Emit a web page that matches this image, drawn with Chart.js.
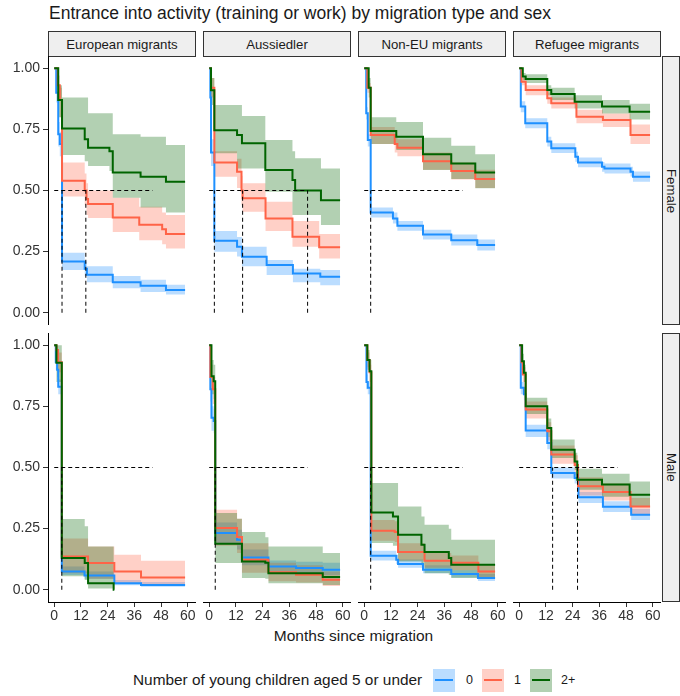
<!DOCTYPE html>
<html><head><meta charset="utf-8">
<script src="https://cdn.jsdelivr.net/npm/chart.js@4.4.1/dist/chart.umd.min.js"></script>
<style>
body{margin:0;width:680px;height:696px;position:relative;background:#fff;font-family:"Liberation Sans",Arial,sans-serif;overflow:hidden;color:#1a1a1a}
.strip{position:absolute;background:#efefef;border:1px solid #333;box-sizing:border-box;display:flex;align-items:center;justify-content:center;font-size:13.2px;color:#1a1a1a}
.vstrip{writing-mode:vertical-rl}
.txt{position:absolute;white-space:nowrap}
.key{position:absolute;width:22px;height:23px}
.key i{position:absolute;left:2px;right:2px;top:10px;height:2px}
</style></head><body>
<div class="txt" style="left:49px;top:3px;font-size:17.5px;line-height:20px">Entrance into activity (training or work) by migration type and sex</div>
<div class="txt" style="left:0;width:707px;text-align:center;top:627px;font-size:15.5px;line-height:18px">Months since migration</div>
<script>
// ---- categories ----
const panels = ['European migrants','Aussiedler','Non-EU migrants','Refugee migrants'];
const sexes = ['Female','Male'];
const groups = ['0','1','2+'];
const legendTitle = 'Number of young children aged 5 or under';
const xTicks = [0,12,24,36,48,60];
const yTicks = [0,0.25,0.5,0.75,1];
const yTickLabels = ['0.00','0.25','0.50','0.75','1.00'];

// ---- survival curves: rows of [month, survival, lower CI, upper CI] ----
const EU_F_0 = [[0,1,1,1],[0.9,0.9,0.86,0.94],[1.8,0.73,0.68,0.78],[2.5,0.69,0.64,0.74],[3.5,0.21,0.175,0.245],[13.7,0.18,0.15,0.21],[14.7,0.155,0.125,0.19],[26.3,0.125,0.1,0.15],[38.8,0.11,0.085,0.135],[50.2,0.093,0.075,0.115],[58.8,0.093,0.075,0.115]];
const EU_F_1 = [[0,1,1,1],[1.6,0.93,0.88,0.97],[2.5,0.87,0.8,0.92],[3.5,0.54,0.475,0.615],[13.7,0.5,0.44,0.57],[14.5,0.465,0.4,0.53],[15.2,0.445,0.388,0.5],[26.3,0.39,0.33,0.47],[38.2,0.36,0.297,0.434],[48.5,0.342,0.28,0.41],[50.2,0.322,0.263,0.4],[58.8,0.322,0.263,0.4]];
const EU_F_2 = [[0,1,1,1],[1.8,0.87,0.8,0.93],[3.5,0.754,0.645,0.88],[13.7,0.71,0.62,0.88],[15.2,0.675,0.6,0.816],[24.8,0.66,0.58,0.816],[26.3,0.574,0.47,0.73],[38.8,0.556,0.43,0.72],[50.2,0.536,0.41,0.686],[58.8,0.536,0.41,0.686]];

const AUS_F_0 = [[0,1,1,1],[0.5,0.88,0.84,0.92],[0.8,0.655,0.6,0.71],[2.3,0.295,0.25,0.334],[12.5,0.27,0.23,0.31],[14.7,0.229,0.19,0.27],[25.8,0.195,0.154,0.216],[37.6,0.161,0.125,0.18],[49.9,0.147,0.113,0.175],[58.8,0.147,0.113,0.175]];
const AUS_F_1 = [[0,1,1,1],[0.8,0.92,0.88,0.96],[2.3,0.615,0.556,0.66],[12.5,0.577,0.51,0.63],[14.5,0.5,0.44,0.56],[15,0.468,0.413,0.53],[25.3,0.386,0.334,0.454],[37.4,0.311,0.27,0.375],[49.4,0.268,0.222,0.322],[58.8,0.268,0.222,0.322]];
const AUS_F_2 = [[0,1,1,1],[0.8,0.91,0.85,0.96],[2.3,0.746,0.652,0.85],[12.5,0.727,0.59,0.85],[14.7,0.693,0.59,0.805],[25.2,0.584,0.495,0.707],[37.4,0.543,0.4,0.66],[38.6,0.5,0.4,0.632],[50.2,0.46,0.359,0.59],[58.8,0.46,0.359,0.59]];

const NEU_F_0 = [[0,1,1,1],[0.9,0.816,0.79,0.84],[1.6,0.707,0.68,0.73],[2.9,0.41,0.39,0.43],[12.9,0.386,0.365,0.41],[14.9,0.356,0.335,0.375],[26.4,0.32,0.3,0.34],[39.1,0.297,0.275,0.32],[50.8,0.277,0.255,0.3],[58.8,0.277,0.255,0.3]];
const NEU_F_1 = [[0,1,1,1],[1.4,0.92,0.9,0.94],[2.9,0.727,0.69,0.76],[13.7,0.69,0.655,0.725],[14.9,0.675,0.64,0.71],[26.4,0.62,0.585,0.655],[39.1,0.58,0.545,0.615],[49.9,0.547,0.51,0.585],[58.8,0.547,0.51,0.585]];
const NEU_F_2 = [[0,1,1,1],[2,0.92,0.88,0.96],[2.9,0.743,0.69,0.8],[14.4,0.72,0.666,0.78],[26.4,0.648,0.584,0.716],[39.1,0.61,0.547,0.683],[49.9,0.574,0.509,0.648],[58.8,0.574,0.509,0.648]];

const REF_F_0 = [[0,1,1,1],[0.7,0.843,0.82,0.865],[2.7,0.775,0.755,0.795],[12.6,0.7,0.68,0.72],[14.4,0.673,0.653,0.693],[25.2,0.638,0.618,0.658],[26.4,0.615,0.595,0.635],[37.2,0.597,0.577,0.617],[38.3,0.59,0.57,0.61],[50,0.577,0.557,0.597],[51.1,0.556,0.536,0.578],[58.8,0.556,0.536,0.578]];
const REF_F_1 = [[0,1,1,1],[1,0.945,0.93,0.96],[2.9,0.911,0.89,0.93],[12.6,0.877,0.855,0.9],[14.4,0.857,0.835,0.88],[25.7,0.802,0.775,0.83],[37.6,0.788,0.76,0.815],[50,0.727,0.69,0.77],[58.8,0.727,0.69,0.77]];
const REF_F_2 = [[0,1,1,1],[1.6,0.966,0.95,0.98],[2.9,0.956,0.94,0.975],[12.6,0.911,0.89,0.93],[14.4,0.895,0.87,0.92],[24.9,0.863,0.835,0.89],[37.2,0.843,0.815,0.87],[49.6,0.822,0.79,0.855],[58.8,0.822,0.79,0.855]];

const EU_M_0 = [[0,1,1,1],[0.7,0.93,0.9,0.96],[1.3,0.9,0.87,0.93],[1.8,0.83,0.8,0.86],[3.4,0.075,0.06,0.095],[13.6,0.058,0.045,0.075],[27,0.027,0.018,0.04],[39,0.02,0.012,0.032],[58.8,0.02,0.012,0.032]];
const EU_M_1 = [[0,1,1,1],[1,0.98,0.96,1],[1.7,0.93,0.89,0.97],[3.4,0.136,0.068,0.21],[15.2,0.109,0.045,0.177],[27,0.075,0.027,0.143],[39,0.05,0.02,0.119],[58.8,0.05,0.02,0.119]];
const EU_M_2 = [[0,1,1,1],[1,0.928,0.85,1],[3.4,0.13,0.055,0.289],[13.7,0.109,0.04,0.26],[15.2,0.027,0.005,0.177],[26.7,0,0,0],[27,0,0,0]];

const AUS_M_0 = [[0,1,1,1],[0.5,0.82,0.77,0.86],[1,0.703,0.65,0.75],[2,0.69,0.64,0.74],[2.7,0.232,0.19,0.275],[12.5,0.205,0.165,0.245],[14.7,0.132,0.1,0.165],[26.6,0.095,0.07,0.12],[39,0.089,0.065,0.115],[51,0.082,0.06,0.11],[58.8,0.082,0.06,0.11]];
const AUS_M_1 = [[0,1,1,1],[0.5,0.87,0.82,0.92],[1.6,0.82,0.76,0.87],[2.7,0.253,0.18,0.327],[12.5,0.216,0.15,0.29],[14.7,0.123,0.07,0.19],[26.6,0.072,0.035,0.11],[39,0.061,0.03,0.1],[51,0.041,0.015,0.075],[58.8,0.041,0.015,0.075]];
const AUS_M_2 = [[0,1,1,1],[1,0.873,0.8,0.94],[2,0.853,0.78,0.92],[2.7,0.188,0.109,0.314],[12.5,0.188,0.109,0.29],[14.7,0.116,0.048,0.236],[25.2,0.11,0.045,0.215],[26.6,0.068,0.027,0.177],[51,0.052,0.02,0.15],[58.8,0.052,0.02,0.15]];

const NEU_M_0 = [[0,1,1,1],[1,0.85,0.82,0.88],[1.6,0.826,0.8,0.85],[2.9,0.139,0.12,0.16],[14.4,0.123,0.105,0.142],[15.2,0.105,0.09,0.124],[26.4,0.082,0.068,0.1],[39.1,0.064,0.05,0.08],[51.1,0.048,0.036,0.064],[58.8,0.048,0.036,0.064]];
const NEU_M_1 = [[0,1,1,1],[1.4,0.94,0.91,0.97],[2.4,0.89,0.85,0.92],[3.2,0.241,0.2,0.285],[13.7,0.236,0.195,0.28],[15.2,0.154,0.12,0.19],[27.1,0.119,0.09,0.15],[39.1,0.11,0.08,0.14],[51.3,0.075,0.05,0.1],[58.8,0.075,0.05,0.1]];
const NEU_M_2 = [[0,1,1,1],[1.4,0.94,0.9,0.98],[2.4,0.894,0.85,0.94],[3.2,0.316,0.191,0.437],[12.9,0.3,0.18,0.437],[15.2,0.225,0.116,0.341],[25.7,0.184,0.1,0.3],[27.1,0.154,0.068,0.266],[38,0.13,0.06,0.25],[39.1,0.102,0.048,0.205],[58.8,0.102,0.048,0.205]];

const REF_M_0 = [[0,1,1,1],[0.7,0.826,0.8,0.85],[2.1,0.8,0.775,0.825],[2.9,0.651,0.625,0.675],[12.6,0.6,0.575,0.625],[14.4,0.478,0.455,0.5],[24.9,0.457,0.435,0.48],[26.6,0.378,0.355,0.4],[37.6,0.34,0.318,0.362],[50.3,0.307,0.285,0.33],[58.8,0.307,0.285,0.33]];
const REF_M_1 = [[0,1,1,1],[1,0.93,0.9,0.96],[1.6,0.88,0.85,0.91],[2.9,0.737,0.7,0.77],[12.6,0.648,0.61,0.685],[14.4,0.553,0.515,0.59],[24.9,0.51,0.47,0.55],[26.4,0.423,0.385,0.46],[37.6,0.4,0.365,0.435],[50,0.341,0.305,0.375],[58.8,0.341,0.305,0.375]];
const REF_M_2 = [[0,1,1,1],[1.3,0.934,0.9,0.965],[2.1,0.887,0.85,0.92],[2.9,0.75,0.719,0.785],[12.6,0.662,0.625,0.7],[14.4,0.573,0.539,0.614],[24.9,0.525,0.49,0.56],[26.1,0.45,0.409,0.495],[37.2,0.43,0.38,0.474],[49.6,0.389,0.341,0.443],[58.8,0.389,0.341,0.443]];

// ---- median survival times (months) ----
const EU_F_med = [3.5,14.2];
const AUS_F_med = [2.3,15,44.2];
const NEU_F_med = [2.9];
const REF_F_med = [];
const EU_M_med = [3.4];
const AUS_M_med = [2.7];
const NEU_M_med = [2.9];
const REF_M_med = [15,26.2];
const medianLineEnd = 44.2;

const curveSets = [
  [EU_F_0,EU_F_1,EU_F_2],[AUS_F_0,AUS_F_1,AUS_F_2],[NEU_F_0,NEU_F_1,NEU_F_2],[REF_F_0,REF_F_1,REF_F_2],
  [EU_M_0,EU_M_1,EU_M_2],[AUS_M_0,AUS_M_1,AUS_M_2],[NEU_M_0,NEU_M_1,NEU_M_2],[REF_M_0,REF_M_1,REF_M_2]
];
const medianSets = [EU_F_med,AUS_F_med,NEU_F_med,REF_F_med,EU_M_med,AUS_M_med,NEU_M_med,REF_M_med];

// ---- styles / layout ----
const lineColors = ['#1E90FF','#FF6347','#006400'];
const bandColors = ['rgba(30,144,255,0.3)','rgba(255,99,71,0.3)','rgba(0,100,0,0.3)'];
const panelLeft = [48,203,358,513];
const panelW = 148;
const rowTop = [56,333];
const panelH = 269;
const yAxisW = 48, xAxisH = 26;

Chart.defaults.font.family = '"Liberation Sans", Arial, sans-serif';
Chart.defaults.font.size = 14;
Chart.defaults.color = '#333';

function addDiv(cls, text, css){
  const d = document.createElement('div');
  d.className = cls; d.textContent = text; d.style.cssText = css;
  document.body.appendChild(d); return d;
}
panels.forEach((p,c)=>addDiv('strip',p,`left:${panelLeft[c]}px;top:31px;width:${panelW}px;height:26px`));
sexes.forEach((s,r)=>addDiv('strip vstrip',s,`left:662px;top:${rowTop[r]}px;width:18px;height:${panelH}px`));

// legend
addDiv('txt',legendTitle,'left:133px;top:671px;font-size:15.4px;line-height:18px');
const keyX = [433,482,530], labX = [466,514,561];
groups.forEach((g,i)=>{
  const k = addDiv('key','',`left:${keyX[i]}px;top:669px;background:${bandColors[i]}`);
  const ln = document.createElement('i'); ln.style.background = lineColors[i]; k.appendChild(ln);
  addDiv('txt',g,`left:${labX[i]}px;top:673px;font-size:12.5px;line-height:15px`);
});

const dashStyle = {borderColor:'#000',borderWidth:1,borderDash:[4,3],pointRadius:0,fill:false,order:0};

function build(row,col){
  const showY = col===0, showX = row===1;
  const cv = document.createElement('canvas');
  const left = showY ? 0 : panelLeft[col];
  const w = showY ? panelLeft[col]+panelW : panelW;
  const h = panelH + (showX ? xAxisH : 0);
  cv.width = w; cv.height = h;
  cv.style.cssText = `position:absolute;left:${left}px;top:${rowTop[row]}px;width:${w}px;height:${h}px`;
  document.body.appendChild(cv);
  const datasets = [];
  const curves = curveSets[row*4+col];
  curves.forEach((rows,g)=>{
    const pts = k=>rows.map(r=>({x:r[0],y:r[k]}));
    datasets.push({data:pts(2),borderWidth:0,borderColor:'rgba(0,0,0,0)',pointRadius:0,stepped:true,fill:false,order:9-g});
    datasets.push({data:pts(3),borderWidth:0,borderColor:'rgba(0,0,0,0)',pointRadius:0,stepped:true,fill:'-1',backgroundColor:bandColors[g],order:9-g});
  });
  curves.forEach((rows,g)=>{
    datasets.push({data:rows.map(r=>({x:r[0],y:r[1]})),borderColor:lineColors[g],borderWidth:2,pointRadius:0,stepped:true,fill:false,order:5-g});
  });
  const meds = medianSets[row*4+col];
  if (meds.length){
    datasets.push(Object.assign({data:[{x:0,y:0.5},{x:medianLineEnd,y:0.5}]},dashStyle));
    meds.forEach(m=>datasets.push(Object.assign({data:[{x:m,y:0},{x:m,y:0.5}]},dashStyle)));
  }
  const axisGrid = {drawOnChartArea:false,drawTicks:true,tickLength:5,color:'#333',lineWidth:1};
  const axisBorder = {display:true,color:'#000',width:1};
  new Chart(cv,{type:'line',data:{datasets},options:{
    responsive:false,animation:false,devicePixelRatio:1,
    layout:{padding:0,autoPadding:false},
    plugins:{legend:{display:false},tooltip:{enabled:false}},
    scales:{
      x:{type:'linear',min:-2.8,max:63.7,display:showX,
        afterBuildTicks:s=>{s.ticks = xTicks.map(v=>({value:v}));},
        afterFit:s=>{ if (showX) s.height = xAxisH; s.paddingLeft = 0; s.paddingRight = 0; },
        grid:axisGrid,border:axisBorder,
        ticks:{color:'#333',font:{size:14},padding:1,maxRotation:0,autoSkip:false,callback:v=>String(v)}},
      y:{type:'linear',min:-0.05,max:1.05,display:showY,
        afterBuildTicks:s=>{s.ticks = yTicks.map(v=>({value:v}));},
        afterFit:s=>{ if (showY) s.width = yAxisW; s.paddingTop = 0; s.paddingBottom = 0; },
        grid:axisGrid,border:axisBorder,
        ticks:{color:'#333',font:{size:14},padding:3,autoSkip:false,callback:v=>{const i=yTicks.indexOf(v);return i>=0?yTickLabels[i]:v.toFixed(2);}}}
    }
  }});
}
for (let r=0;r<2;r++) for (let c=0;c<4;c++) build(r,c);
</script>
</body></html>
